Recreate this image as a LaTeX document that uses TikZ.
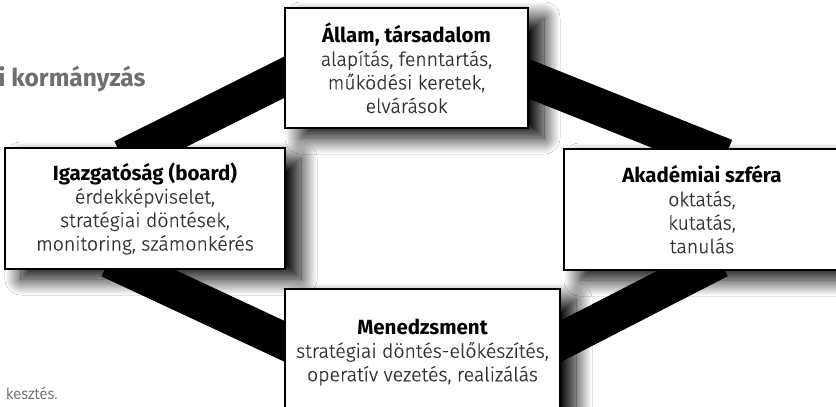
\documentclass[tikz,border=0pt]{standalone}
\usepackage{fontspec}
\setmainfont{Fira Sans Light}[FakeBold=0.5]
\newfontfamily\titlefont{Fira Sans Bold}
\usetikzlibrary{shadows.blur,calc,backgrounds}
\definecolor{bodytext}{HTML}{333333}
\definecolor{titlegray}{HTML}{6E6E6E}
\begin{document}
\begin{tikzpicture}[x=1pt,y=-1pt,
  box/.style={draw=black,line width=2.4pt,fill=white,align=center,inner sep=0pt,
    font=\fontsize{19.5}{23.5}\selectfont,text=bodytext,
    blur shadow={shadow xshift=16pt,shadow yshift=-10pt,shadow blur radius=16pt,
      shadow blur steps=40,shadow opacity=100}},
  band/.style={line width=37pt,black,shorten <=-25pt,shorten >=-25pt}]
\useasboundingbox (0,0) rectangle (836,407);
\clip (0,0) rectangle (836,407);

\node[text=titlegray,font=\titlefont\fontsize{24.5}{28}\selectfont,anchor=east] (ttl) at (149,79) {i kormányzás};
\node[text=titlegray,font=\fontsize{15}{17}\selectfont,anchor=east] (src) at (61,393) {kesztés.};

\node[box,minimum width=243pt,minimum height=120pt] (state) at (406.5,68)
  {{\titlefont\fontsize{20.5}{23.5}\selectfont\color{black}Állam, társadalom}\\alapítás, fenntartás,\\működési keretek,\\elvárások};
\node[box,minimum width=280pt,minimum height=121pt] (board) at (145,208.5)
  {{\titlefont\fontsize{20.5}{23.5}\selectfont\color{black}Igazgatóság (board)}\\érdekképviselet,\\stratégiai döntések,\\monitoring, számonkérés};
\node[box,minimum width=276pt,minimum height=121pt] (acad) at (702,209.5)
  {{\titlefont\fontsize{20.5}{23.5}\selectfont\color{black}Akadémiai szféra}\\oktatás,\\kutatás,\\tanulás};
\node[box,minimum width=275pt,minimum height=126pt] (mgmt) at (422.5,352)
  {{\titlefont\fontsize{20.5}{23.5}\selectfont\color{black}Menedzsment}\\stratégiai döntés-előkészítés,\\operatív vezetés, realizálás};

\begin{scope}[on background layer]
  \fill[white] (0,0) rectangle (836,407);
  \draw[band] (board.north) -- ($(state.west)+(0,9.5)$);
  \draw[band] ($(state.east)+(0,11)$) -- (acad.north);
  \draw[band] ($(board.south)+(-13,0)$) -- ($(mgmt.west)+(0,-11)$);
  \draw[band] ($(mgmt.east)+(0,-11)$) -- ($(acad.south)+(-5,0)$);
\end{scope}
\end{tikzpicture}
\end{document}
